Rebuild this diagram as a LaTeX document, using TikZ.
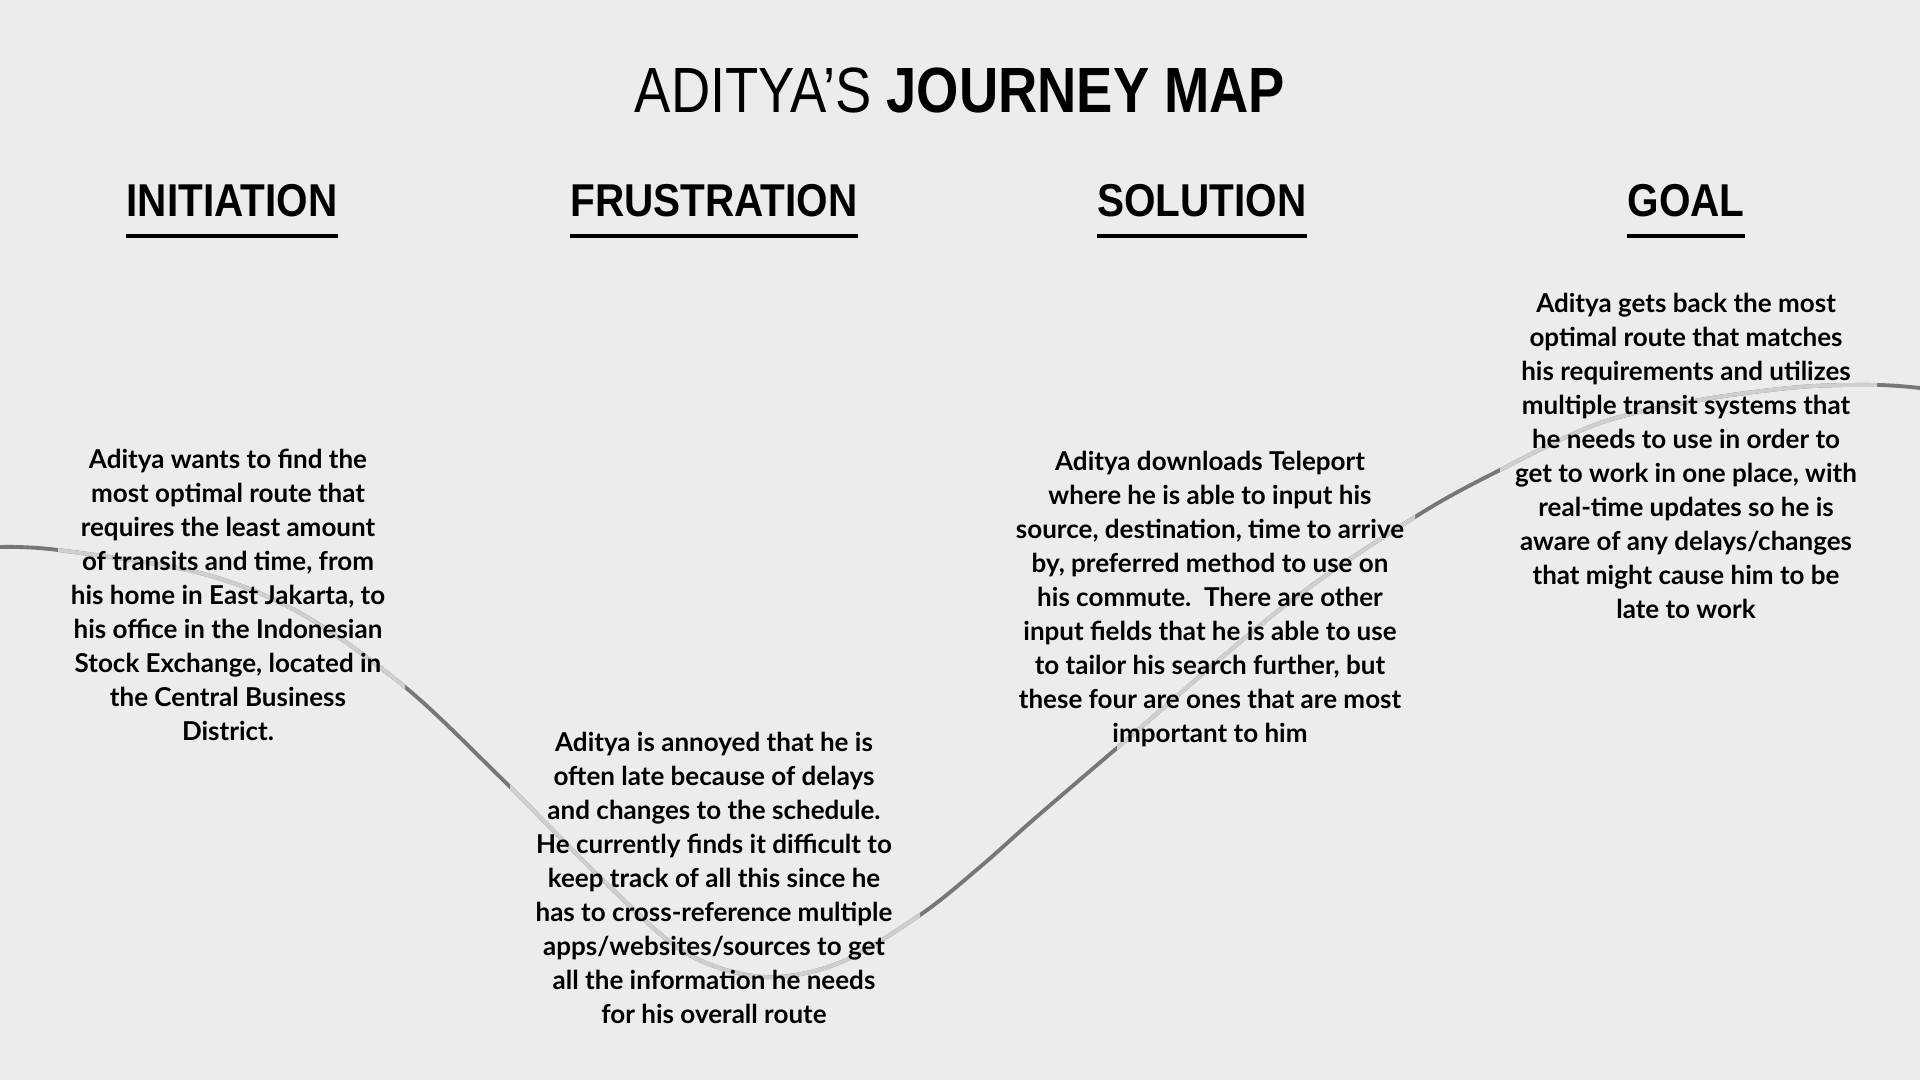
\documentclass[tikz,border=0pt]{standalone}
\usepackage{fontspec}
\setmainfont{Lato}
\newfontfamily\titlefont[FakeStretch=0.85]{Liberation Sans}
\newfontfamily\headfont[FakeStretch=0.88]{Liberation Sans}
\definecolor{bggray}{HTML}{ECECEC}
\definecolor{routedark}{HTML}{777777}
\definecolor{routelight}{HTML}{CFCFCF}
\tikzset{
  route/.style={insert path={plot[smooth,tension=0.55] coordinates {(0,5.33) (0.58,5.30) (2.00,5.07) (3.00,4.67) (4.05,3.93) (5.00,3.03) (6.10,1.93) (6.86,1.27) (7.63,1.03) (8.39,1.17) (9.20,1.65) (9.80,2.13) (10.33,2.60) (11.17,3.32) (12.83,4.73) (14.15,5.63) (15.00,6.10) (16.00,6.57) (17.00,6.80) (18.00,6.93) (18.77,6.95) (19.20,6.92)}}}
}
\begin{document}
\begin{tikzpicture}[
  heading/.style={anchor=base,inner xsep=0pt,inner ysep=0.18cm,font=\headfont\bfseries\fontsize{13.1pt}{15pt}\selectfont},
  note/.style={align=center,inner sep=0pt,font=\bfseries\fontsize{7.4pt}{9.67pt}\selectfont},
  underline/.style={line width=1.1pt},
  darkseg/.style={draw=routedark,line width=1.1pt},
  lightseg/.style={draw=routelight,line width=1.1pt}
]
\fill[bggray] (0,0) rectangle (19.2,10.8);
\useasboundingbox (0,0) rectangle (19.2,10.8);

\path[darkseg,route];
\foreach \xa/\xb in {0.58/4.05,5.10/9.20,11.17/14.15,15.00/18.77}{
  \begin{scope}
    \clip (\xa,0) rectangle (\xb,10.8);
    \path[lightseg,route];
  \end{scope}
}

\node[anchor=base,inner sep=0pt,font=\titlefont\fontsize{18.2pt}{20pt}\selectfont] (title) at (9.6,9.67) {ADITYA’S \textbf{JOURNEY MAP}};

\node[heading] (init) at (2.32,8.63) {INITIATION};
\node[heading] (frus) at (7.14,8.63) {FRUSTRATION};
\node[heading] (solu) at (12.02,8.63) {SOLUTION};
\node[heading] (goal) at (16.86,8.63) {GOAL};

\draw[underline] (init.south west) -- (init.south east);
\draw[underline] (frus.south west) -- (frus.south east);
\draw[underline] (solu.south west) -- (solu.south east);
\draw[underline] (goal.south west) -- (goal.south east);

\node[note] (initnote) at (2.28,4.85) {Aditya wants to find the\\most optimal route that\\requires the least amount\\of transits and time, from\\his home in East Jakarta, to\\his office in the Indonesian\\Stock Exchange, located in\\the Central Business\\District.};
\node[note] (frusnote) at (7.14,2.02) {Aditya is annoyed that he is\\often late because of delays\\and changes to the schedule.\\He currently finds it difficult to\\keep track of all this since he\\has to cross-reference multiple\\apps/websites/sources to get\\all the information he needs\\for his overall route};
\node[note] (solunote) at (12.10,4.81) {Aditya downloads Teleport\\where he is able to input his\\source, destination, time to arrive\\by, preferred method to use on\\his commute.\ \ There are other\\input fields that he is able to use\\to tailor his search further, but\\these four are ones that are most\\important to him};
\node[note] (goalnote) at (16.86,6.24) {Aditya gets back the most\\optimal route that matches\\his requirements and utilizes\\multiple transit systems that\\he needs to use in order to\\get to work in one place, with\\real-time updates so he is\\aware of any delays/changes\\that might cause him to be\\late to work};
\end{tikzpicture}
\end{document}
